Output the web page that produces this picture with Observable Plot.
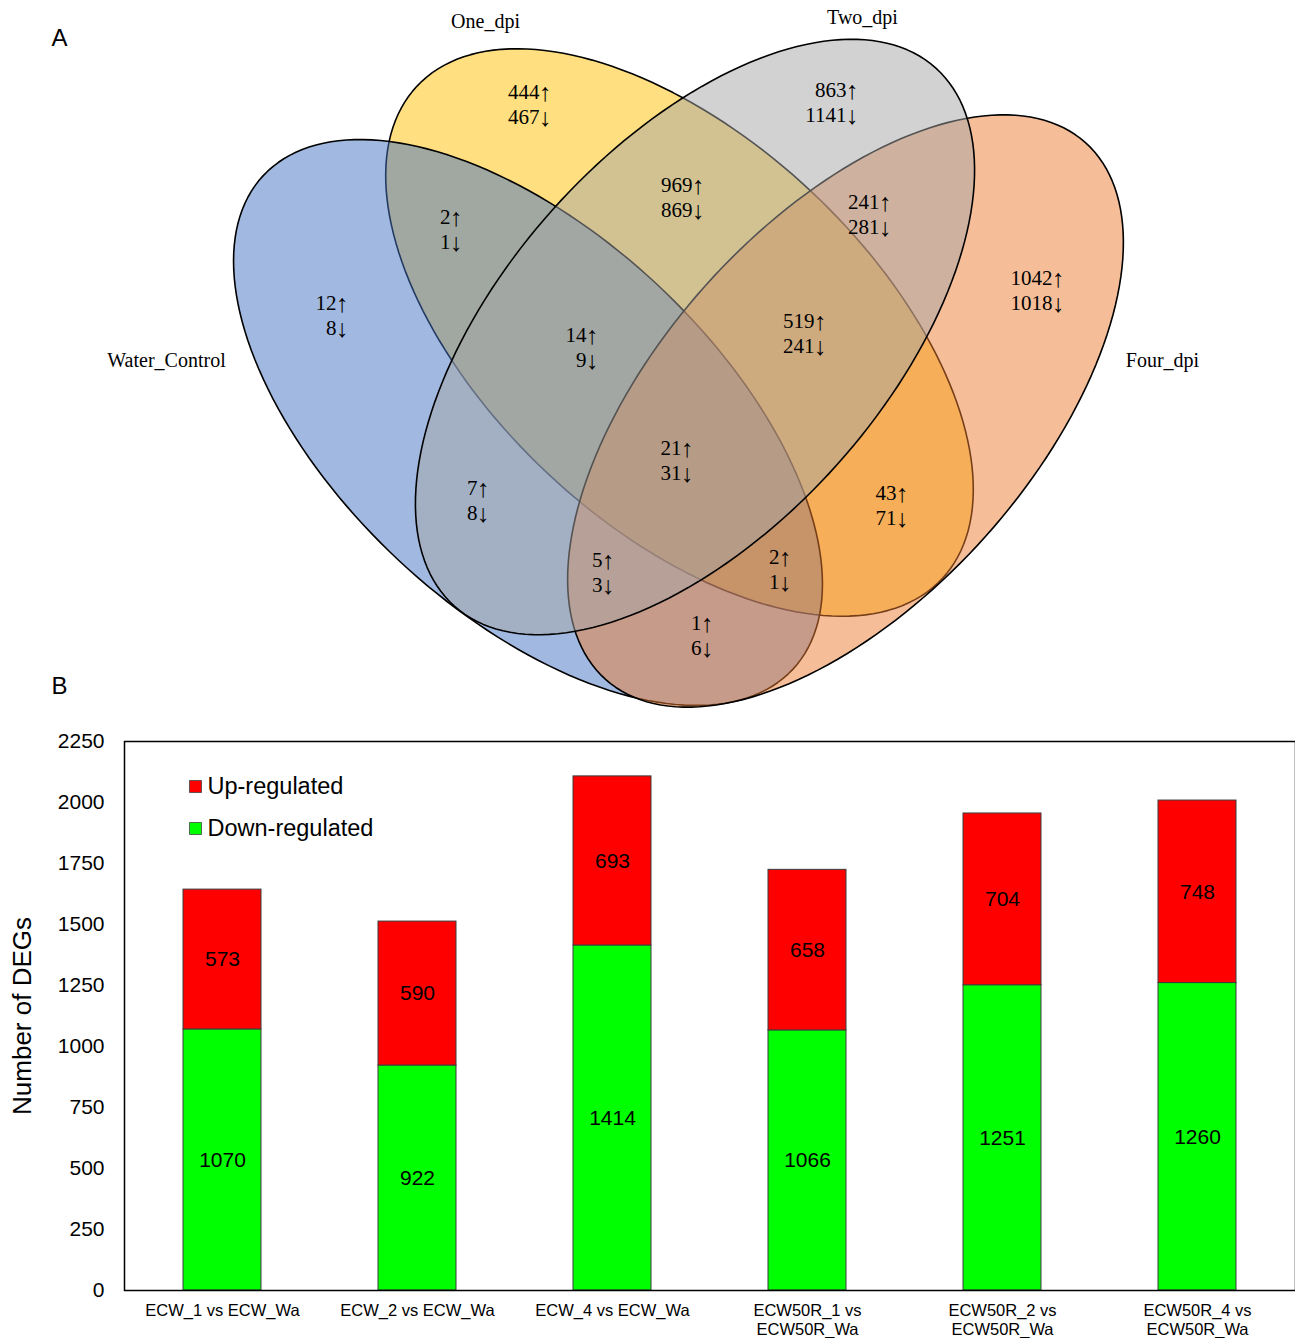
<!DOCTYPE html>
<html>
<head>
<meta charset="utf-8">
<script src="https://cdn.jsdelivr.net/npm/d3@7"></script>
<script src="https://cdn.jsdelivr.net/npm/@observablehq/plot@0.6"></script>
<style>
  body { margin: 0; background: #fff; }
  #wrap { width: 1295px; height: 1338px; overflow: hidden; background: #fff; }
  #wrap svg { display: block; }
</style>
</head>
<body>
<div id="wrap"></div>
<script>
// ---------- Panel A: Venn data ----------
const setNames = ["Water_Control", "One_dpi", "Two_dpi", "Four_dpi"];
const setColors = ["#4472C4", "#FFC000", "#A5A5A5", "#ED7D31"];
// regions: W, O, T, F, W∩O, O∩T, T∩F, W∩O∩T, O∩T∩F, all, W∩T, O∩F, W∩T∩F, W∩O∩F, W∩F
const regionUp   = [12, 444, 863, 1042, 2, 969, 241, 14, 519, 21, 7, 43, 5, 2, 1];
const regionDown = [8, 467, 1141, 1018, 1, 869, 281, 9, 241, 31, 8, 71, 3, 1, 6];

// ---------- Panel B: bar data ----------
const comparisons = [
  "ECW_1 vs ECW_Wa", "ECW_2 vs ECW_Wa", "ECW_4 vs ECW_Wa",
  "ECW50R_1 vs\nECW50R_Wa", "ECW50R_2 vs\nECW50R_Wa", "ECW50R_4 vs\nECW50R_Wa"
];
const upRegulated   = [573, 590, 693, 658, 704, 748];
const downRegulated = [1070, 922, 1414, 1066, 1251, 1260];
const yTicks = [0, 250, 500, 750, 1000, 1250, 1500, 1750, 2000, 2250];

// ---------- Layout (Venn geometry, label placement) ----------
const ellipseGeom = [
  {cx: 527.5, cy: 422,   a: 362, b: 189, angle: 43},    // Water_Control
  {cx: 679,   cy: 332,   a: 360, b: 193, angle: 43.2},  // One_dpi
  {cx: 694.5, cy: 336.5, a: 361, b: 191, angle: -48.2}, // Two_dpi
  {cx: 845,   cy: 410.5, a: 360, b: 188, angle: -48.2}  // Four_dpi
];
const drawOrder = [1, 0, 3, 2];
const setLabelPos = [[166, 360], [485, 21], [862, 17], [1162, 360]];
const regionPos = [
  [347, 303], [550, 92], [857, 90], [1063, 278], [461, 217], [703, 185],
  [890, 202], [597, 335], [825, 321], [692, 448], [488, 488], [907, 493],
  [613, 560], [790, 557], [712, 623]
];
const lineGap = 25;
const arrowW = 11;

function ellipsePoints(g, i) {
  const th = g.angle * Math.PI / 180;
  return d3.range(0, 361, 2).map(t => {
    const r = t * Math.PI / 180;
    const ex = g.a * Math.cos(r), ey = g.b * Math.sin(r);
    return {set: i, x: g.cx + ex * Math.cos(th) - ey * Math.sin(th),
                    y: g.cy + ex * Math.sin(th) + ey * Math.cos(th)};
  });
}

const serif = "'Liberation Serif', 'Times New Roman', serif";
const sans = "'Liberation Sans', Arial, sans-serif";

const venn = Plot.plot({
  width: 1295, height: 720, margin: 0,
  x: {domain: [0, 1295], range: [0, 1295], axis: null},
  y: {domain: [0, 720], range: [0, 720], axis: null},
  style: {fontFamily: serif, color: "black", background: "white"},
  marks: [
    ...drawOrder.map(i => Plot.line(ellipsePoints(ellipseGeom[i], i), {
      x: "x", y: "y", fill: setColors[i], fillOpacity: 0.5,
      stroke: "black", strokeWidth: 1.6, curve: "linear-closed"
    })),
    Plot.text(setNames, {
      x: (d, i) => setLabelPos[i][0], y: (d, i) => setLabelPos[i][1],
      text: d => d, fontSize: 20, fill: "black"
    }),
    // counts
    Plot.text(regionUp, {
      x: (d, i) => regionPos[i][0] - arrowW, y: (d, i) => regionPos[i][1],
      text: d => String(d), textAnchor: "end", fontSize: 21, fill: "black"
    }),
    Plot.text(regionDown, {
      x: (d, i) => regionPos[i][0] - arrowW, y: (d, i) => regionPos[i][1] + lineGap,
      text: d => String(d), textAnchor: "end", fontSize: 21, fill: "black"
    }),
    // arrows
    Plot.text(regionUp, {
      x: (d, i) => regionPos[i][0] - arrowW / 2, y: (d, i) => regionPos[i][1],
      text: () => "\u2191", textAnchor: "middle", fontSize: 25, fill: "black"
    }),
    Plot.text(regionDown, {
      x: (d, i) => regionPos[i][0] - arrowW / 2, y: (d, i) => regionPos[i][1] + lineGap,
      text: () => "\u2193", textAnchor: "middle", fontSize: 25, fill: "black"
    }),
    Plot.text(["A"], {frameAnchor: "top-left", dx: 59, dy: 38, fontFamily: sans, fontSize: 24, fill: "black", lineAnchor: "middle", textAnchor: "middle"}),
    Plot.text(["B"], {frameAnchor: "top-left", dx: 59, dy: 686, fontFamily: sans, fontSize: 24, fill: "black", lineAnchor: "middle", textAnchor: "middle"})
  ]
});

// ---------- Panel B ----------
const rows = [];
comparisons.forEach((c, i) => {
  rows.push({comparison: c, type: "Down-regulated", value: downRegulated[i]});
  rows.push({comparison: c, type: "Up-regulated", value: upRegulated[i]});
});

const bars = Plot.plot({
  width: 1295, height: 618,
  marginTop: 21, marginBottom: 48, marginLeft: 124, marginRight: 0,
  style: {fontFamily: sans, color: "black", background: "white"},
  x: {domain: comparisons, paddingInner: 0.6, paddingOuter: 0.3, label: null},
  y: {domain: [0, 2250], label: null},
  color: {domain: ["Down-regulated", "Up-regulated"], range: ["#00FF00", "#FF0000"]},
  marks: [
    Plot.barY(rows, Plot.stackY({x: "comparison", y: "value", fill: "type", stroke: "#3c3c3c", strokeWidth: 1})),
    Plot.text(rows, Plot.stackY({x: "comparison", y: "value", text: d => String(d.value), fontSize: 21, fill: "black"})),
    Plot.frame({stroke: "black", strokeWidth: 1.5}),
    Plot.axisY({ticks: yTicks, tickFormat: d => String(d), tickSize: 0, tickPadding: 20, fontSize: 21, label: null}),
    Plot.axisX({tickSize: 0, tickPadding: 11, fontSize: 16.5, lineHeight: 1.2, label: null}),
    Plot.text(["Number of DEGs"], {frameAnchor: "left", rotate: -90, dx: -102, textAnchor: "middle", lineAnchor: "middle", fontSize: 26, fill: "black"}),
    Plot.dot({length: 1}, {frameAnchor: "top-left", dx: 71, dy: 45, symbol: "square", r: 6.8, fill: "#FF0000", stroke: "#444", strokeWidth: 0.8}),
    Plot.dot({length: 1}, {frameAnchor: "top-left", dx: 71, dy: 87, symbol: "square", r: 6.8, fill: "#00FF00", stroke: "#444", strokeWidth: 0.8}),
    Plot.text(["Up-regulated"], {frameAnchor: "top-left", dx: 83, dy: 45, textAnchor: "start", lineAnchor: "middle", fontSize: 23.5, fill: "black"}),
    Plot.text(["Down-regulated"], {frameAnchor: "top-left", dx: 83, dy: 87, textAnchor: "start", lineAnchor: "middle", fontSize: 23.5, fill: "black"})
  ]
});

const wrap = document.getElementById("wrap");
wrap.appendChild(venn);
wrap.appendChild(bars);
</script>
</body>
</html>
